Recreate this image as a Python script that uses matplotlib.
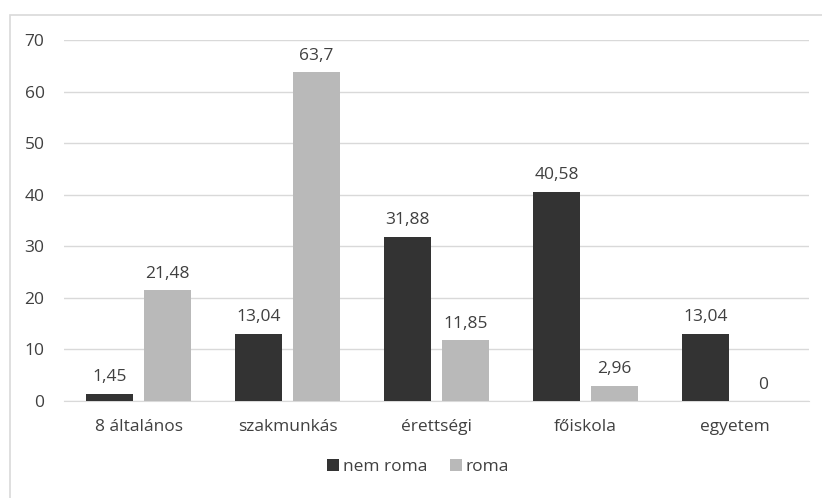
import matplotlib.pyplot as plt
import numpy as np
from matplotlib.patches import Rectangle

categories = ['8 általános', 'szakmunkás', 'érettségi', 'főiskola', 'egyetem']
nem_roma = [1.45, 13.04, 31.88, 40.58, 13.04]
roma = [21.48, 63.7, 11.85, 2.96, 0]

plt.rcParams['font.family'] = ['Open Sans', 'DejaVu Sans']
txt = '#404040'
fs = 12.5

fig = plt.figure(figsize=(8.22, 4.98), dpi=100)
# chart border (cut off at right and bottom like in the source)
fig.patches.append(Rectangle((10 / 822, -0.1), 1.2, 1 - 15 / 498 + 0.1,
                             transform=fig.transFigure, fill=False,
                             edgecolor='#d9d9d9', linewidth=1.2))
ax = fig.add_axes([64 / 822, 1 - 401 / 498, 745 / 822, 361 / 498])

x = np.arange(len(categories))
w = 0.31
b1 = ax.bar(x - 0.195, nem_roma, w, color='#333333', label='nem roma', zorder=3)
b2 = ax.bar(x + 0.195, roma, w, color='#b9b9b9', label='roma', zorder=3)

for bars, vals in [(b1, nem_roma), (b2, roma)]:
    for r, v in zip(bars, vals):
        ax.annotate(str(v).replace('.', ','), (r.get_x() + r.get_width() / 2, v),
                    xytext=(0, 6), textcoords='offset points',
                    ha='center', va='bottom', fontsize=fs, color=txt)

ax.set_xlim(-0.5, 4.5)
ax.set_ylim(0, 70)
ax.set_yticks(range(0, 71, 10))
ax.set_xticks(x)
ax.set_xticklabels(categories)
ax.grid(axis='y', color='#d9d9d9', linewidth=1, zorder=0)
for s in ['top', 'right', 'left']:
    ax.spines[s].set_visible(False)
ax.spines['bottom'].set_color('#d9d9d9')
ax.tick_params(length=0, labelsize=fs, colors=txt)
ax.tick_params(axis='x', pad=13)
ax.tick_params(axis='y', pad=14)

fig.legend(loc='center', bbox_to_anchor=(418 / 822, 1 - 467 / 498), ncol=2,
           frameon=False, fontsize=fs, labelcolor=txt, handlelength=0.7,
           handleheight=0.7, handletextpad=0.2, columnspacing=1.3)

fig.savefig('out.png', dpi=100)
